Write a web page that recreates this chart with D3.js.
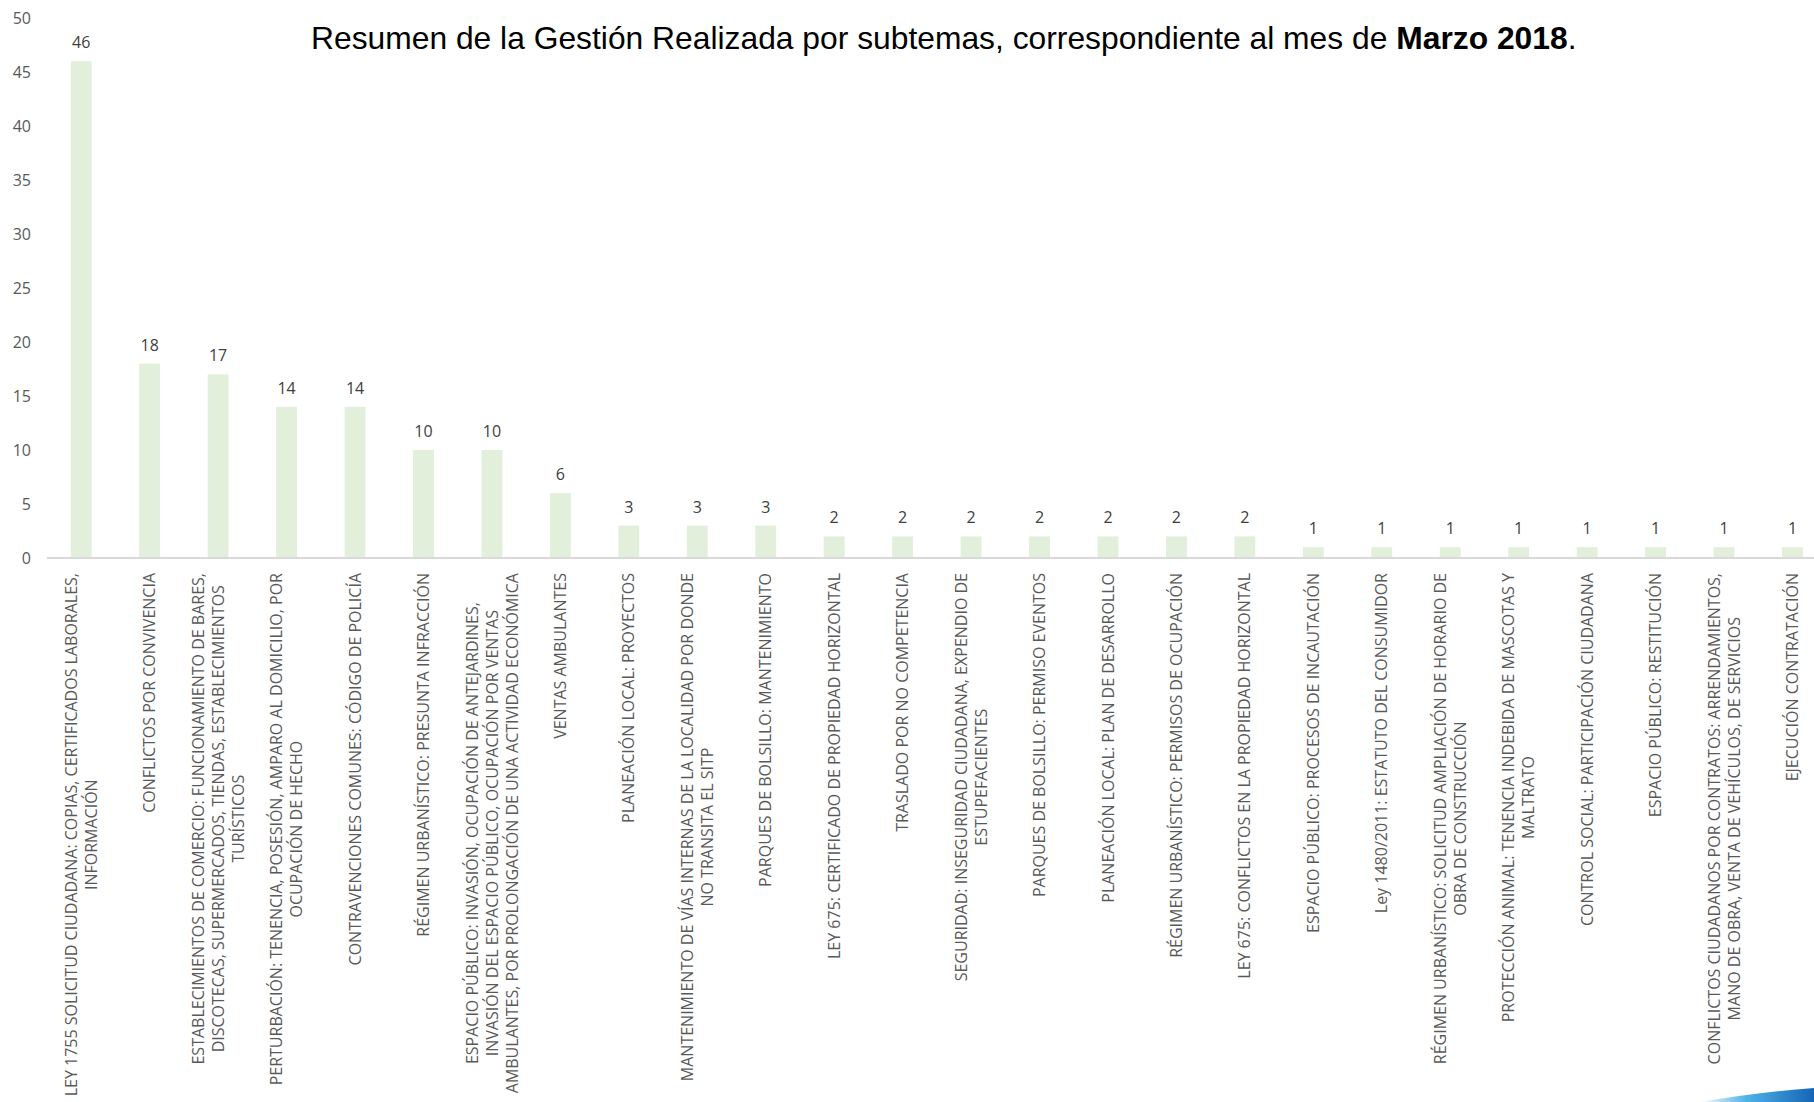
<!DOCTYPE html>
<html>
<head>
<meta charset="utf-8">
<script src="https://cdn.jsdelivr.net/npm/d3@7"></script>
<style>
  body { margin: 0; background: #fff; }
</style>
</head>
<body>
<div id="chart"></div>
<script>
// subtemas, lines broken as in the original chart
const categories = [
  "LEY 1755 SOLICITUD CIUDADANA: COPIAS, CERTIFICADOS LABORALES,\nINFORMACIÓN",
  "CONFLICTOS POR CONVIVENCIA",
  "ESTABLECIMIENTOS DE COMERCIO: FUNCIONAMIENTO DE BARES,\nDISCOTECAS, SUPERMERCADOS, TIENDAS, ESTABLECIMIENTOS\nTURÍSTICOS",
  "PERTURBACIÓN: TENENCIA, POSESIÓN, AMPARO AL DOMICILIO, POR\nOCUPACIÓN DE HECHO",
  "CONTRAVENCIONES COMUNES: CÓDIGO DE POLICÍA",
  "RÉGIMEN URBANÍSTICO: PRESUNTA INFRACCIÓN",
  "ESPACIO PÚBLICO: INVASIÓN, OCUPACIÓN DE ANTEJARDINES,\nINVASIÓN DEL ESPACIO PÚBLICO, OCUPACIÓN POR VENTAS\nAMBULANTES, POR PROLONGACIÓN DE UNA ACTIVIDAD ECONÓMICA",
  "VENTAS AMBULANTES",
  "PLANEACIÓN LOCAL: PROYECTOS",
  "MANTENIMIENTO DE VÍAS INTERNAS DE LA LOCALIDAD POR DONDE\nNO TRANSITA EL SITP",
  "PARQUES DE BOLSILLO: MANTENIMIENTO",
  "LEY 675: CERTIFICADO DE PROPIEDAD HORIZONTAL",
  "TRASLADO POR NO COMPETENCIA",
  "SEGURIDAD: INSEGURIDAD CIUDADANA, EXPENDIO DE\nESTUPEFACIENTES",
  "PARQUES DE BOLSILLO: PERMISO EVENTOS",
  "PLANEACIÓN LOCAL: PLAN DE DESARROLLO",
  "RÉGIMEN URBANÍSTICO: PERMISOS DE OCUPACIÓN",
  "LEY 675: CONFLICTOS EN LA PROPIEDAD HORIZONTAL",
  "ESPACIO PÚBLICO: PROCESOS DE INCAUTACIÓN",
  "Ley 1480/2011: ESTATUTO DEL CONSUMIDOR",
  "RÉGIMEN URBANÍSTICO: SOLICITUD AMPLIACIÓN DE HORARIO DE\nOBRA DE CONSTRUCCIÓN",
  "PROTECCIÓN ANIMAL: TENENCIA INDEBIDA DE MASCOTAS Y\nMALTRATO",
  "CONTROL SOCIAL: PARTICIPACIÓN CIUDADANA",
  "ESPACIO PÚBLICO: RESTITUCIÓN",
  "CONFLICTOS CIUDADANOS POR CONTRATOS: ARRENDAMIENTOS,\nMANO DE OBRA, VENTA DE VEHÍCULOS, DE SERVICIOS",
  "EJECUCIÓN CONTRATACIÓN"
];
const values = [46, 18, 17, 14, 14, 10, 10, 6, 3, 3, 3, 2, 2, 2, 2, 2, 2, 2, 1, 1, 1, 1, 1, 1, 1, 1];
const yTicks = [0, 5, 10, 15, 20, 25, 30, 35, 40, 45, 50];

const width = 1814,
  height = 1102;

const data = categories.map((c, i) => ({ name: c, value: values[i] }));

const svg = d3.select("#chart")
  .append("svg")
  .attr("width", width)
  .attr("height", height)
  .style("display", "block");

// the chart is cut off on the right like in the source slide
const x = d3.scaleBand()
  .domain(d3.range(data.length))
  .range([47, 47 + 26 * 68.45])
  .paddingInner(0.695)
  .paddingOuter(0.3475);

const y = d3.scaleLinear()
  .domain([0, 50])
  .range([558, 18]);

// y axis: labels only
svg.append("g")
  .attr("transform", "translate(47,0)")
  .call(d3.axisLeft(y).tickValues(yTicks).tickSize(0).tickPadding(16))
  .call(g => g.select(".domain").remove())
  .selectAll("text")
  .attr("fill", "#595959")
  .attr("font-family", "'Open Sans', sans-serif")
  .attr("font-size", 16);

svg.append("g")
  .selectAll("rect")
  .data(data)
  .join("rect")
  .attr("x", (d, i) => x(i))
  .attr("y", d => y(d.value))
  .attr("width", x.bandwidth())
  .attr("height", d => y(0) - y(d.value))
  .attr("fill", "#e2efda");

svg.append("line")
  .attr("x1", 47)
  .attr("x2", width)
  .attr("y1", y(0))
  .attr("y2", y(0))
  .attr("stroke", "#d9d9d9")
  .attr("stroke-width", 2);

// value labels
svg.append("g")
  .attr("font-family", "'Open Sans', sans-serif")
  .attr("font-size", 16)
  .attr("fill", "#404040")
  .attr("text-anchor", "middle")
  .selectAll("text")
  .data(data)
  .join("text")
  .attr("x", (d, i) => x(i) + x.bandwidth() / 2)
  .attr("y", d => y(d.value) - 13)
  .text(d => d.value);

// rotated category labels, lines centered on the longest one
const lineH = 20;
const labels = svg.append("g")
  .attr("font-family", "'Open Sans', sans-serif")
  .attr("font-size", 16)
  .attr("fill", "#595959")
  .selectAll("g")
  .data(data)
  .join("g")
  .attr("transform", (d, i) => `translate(${x(i) + x.bandwidth() / 2},573) rotate(-90)`);

labels.each(function(d) {
  const g = d3.select(this);
  const lines = d.name.split("\n");
  const texts = g.selectAll("text")
    .data(lines)
    .join("text")
    .attr("y", (l, j) => (j - (lines.length - 1) / 2) * lineH)
    .attr("dy", "0.35em")
    .text(l => l);
  let longest = 0;
  texts.each(function() { longest = Math.max(longest, this.getComputedTextLength()); });
  texts.attr("x", -longest / 2).attr("text-anchor", "middle");
});

const title = svg.append("text")
  .attr("x", 311)
  .attr("y", 49)
  .attr("font-family", "'Liberation Sans', Arial, sans-serif")
  .attr("font-size", 31.8)
  .attr("fill", "#000");
title.append("tspan").text("Resumen de la Gestión Realizada por subtemas, correspondiente al mes de ");
title.append("tspan").attr("font-weight", "bold").text("Marzo 2018");
title.append("tspan").text(".");

// blue swoosh of the slide template, bottom right
const grad = svg.append("defs").append("linearGradient")
  .attr("id", "swoosh")
  .attr("x1", "0%").attr("x2", "100%");
grad.append("stop").attr("offset", "0%").attr("stop-color", "#ffffff");
grad.append("stop").attr("offset", "40%").attr("stop-color", "#4fb3e8");
grad.append("stop").attr("offset", "100%").attr("stop-color", "#1565b5");
svg.append("path")
  .attr("d", "M1700,1102 Q1760,1092 1814,1088 L1814,1102 Z")
  .attr("fill", "url(#swoosh)");
</script>
</body>
</html>
